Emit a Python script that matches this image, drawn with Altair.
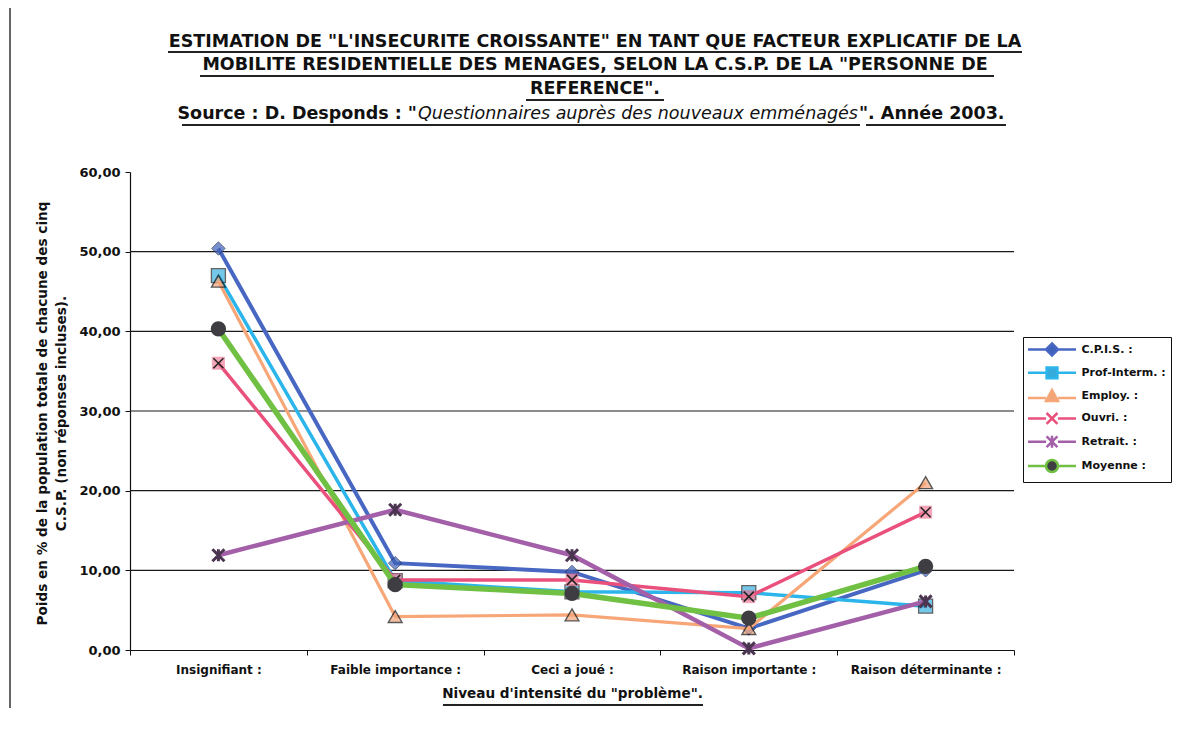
import altair as alt
import pandas as pd

# ---------------- data ----------------
categories = ["Insignifiant :", "Faible importance :", "Ceci a joué :",
              "Raison importante :", "Raison déterminante :"]
series = ["C.P.I.S. :", "Prof-Interm. :", "Employ. :", "Ouvri. :", "Retrait. :", "Moyenne :"]

cpis = [50.4, 10.9, 9.8, 2.7, 10.0]
prof_interm = [47.0, 8.7, 7.3, 7.2, 5.5]
employ = [46.3, 4.2, 4.4, 2.7, 21.0]
ouvri = [36.0, 8.8, 8.8, 6.7, 17.3]
retrait = [11.9, 17.6, 11.9, 0.2, 6.1]
moyenne = [40.3, 8.2, 7.1, 4.0, 10.5]

y_ticks = [0, 10, 20, 30, 40, 50, 60]
grid_values = [10, 20, 30, 40, 50]

title_lines = [
    'ESTIMATION DE "L\'INSECURITE CROISSANTE" EN TANT QUE FACTEUR EXPLICATIF DE LA',
    'MOBILITE RESIDENTIELLE DES MENAGES, SELON LA C.S.P. DE LA "PERSONNE DE',
    'REFERENCE".',
]
source_parts = ['Source : D. Desponds : "', 'Questionnaires auprès des nouveaux emménagés', '". Année 2003.']
y_title = ["Poids en % de la population totale de chacune des cinq",
           "C.S.P. (non réponses incluses)."]
x_title = 'Niveau d\'intensité du "problème".'

# ---------------- styles ----------------
FONT = "DejaVu Sans"
line_colors = ["#4767c2", "#2bb5ea", "#f7a677", "#ea507c", "#a360a8", "#70c043"]
line_widths = [4, 3.5, 3.2, 3.5, 4.5, 5.5]
legend_fills = ["#3f62b8", "#35acdc", "#f3a57a", "#f07f9a", "#6e4a74", "#3e3e42"]
legend_paths = [
    "M-4,0L-1,0M1,0L4,0M0,-1L1,0L0,1L-1,0Z",
    "M-4,0L-0.9,0M0.9,0L4,0M-0.9,-0.9L0.9,-0.9L0.9,0.9L-0.9,0.9Z",
    "M-4,0.3L-1,0.3M1,0.3L4,0.3M0,-1L1,0.8L-1,0.8Z",
    "M-4,0L-1,0M1,0L4,0M-0.9,-0.9L0.9,0.9M-0.9,0.9L0.9,-0.9",
    "M-4,0L-1,0M1,0L4,0M-0.9,-0.9L0.9,0.9M-0.9,0.9L0.9,-0.9M0,-1L0,1",
    "M-4,0L-1,0M1,0L4,0M1,0A1,1,0,1,1,-1,0A1,1,0,1,1,1,0Z",
]

rows = []
for name, vals in zip(series, [cpis, prof_interm, employ, ouvri, retrait, moyenne]):
    for c, v in zip(categories, vals):
        rows.append({"series": name, "cat": c, "value": v})
df = pd.DataFrame(rows)
one = pd.DataFrame({"a": [0]})

W, H = 884, 478

y_scale = alt.Scale(domain=[0, 60], nice=False, zero=True)
y_axis = alt.Axis(
    values=y_ticks, title=y_title, grid=False,
    labelExpr="replace(format(datum.value, '.2f'), '.', ',')",
    labelFont=FONT, labelFontSize=13, labelFontWeight="bold", labelColor="#111",
    labelPadding=5, tickSize=5, tickColor="#111", domainColor="#111", domainWidth=1.2,
    titleFont=FONT, titleFontSize=13.6, titleFontWeight="bold", titleColor="#111",
    titleLineHeight=19, titleX=-95, titleY=H / 2 + 2, titleAlign="center", titleBaseline="top",
    titleAngle=270,
)
x_scale = alt.Scale(type="band", domain=categories, paddingInner=0, paddingOuter=0)
x_axis = alt.Axis(
    title=x_title, tickBand="extent", labelAngle=0, grid=False,
    labelFont=FONT, labelFontSize=12, labelFontWeight="bold", labelColor="#111",
    labelPadding=9, tickSize=5, tickColor="#111", domainColor="#111", domainWidth=1.2,
    titleFont=FONT, titleFontSize=13.6, titleFontWeight="bold", titleColor="#111",
    titlePadding=11,
)

X = alt.X("cat:N", sort=categories, scale=x_scale, axis=x_axis, bandPosition=0.5)
Y = alt.Y("value:Q", scale=y_scale, axis=y_axis)

layers = []

# gridlines
grid = alt.Chart(pd.DataFrame({"value": grid_values})).mark_rule(
    color="#1a1a1a", strokeWidth=1.2).encode(y=Y)
layers.append(grid)

base = alt.Chart(df)

marker_specs = {
    "C.P.I.S. :": [dict(shape="diamond", filled=True, fill="#3f62b8", stroke="#1d2a55", strokeWidth=1, size=180)],
    "Prof-Interm. :": [dict(shape="square", filled=True, fill="#3ab0e0", stroke="#222", strokeWidth=1.3, size=196)],
    "Employ. :": [dict(shape="triangle-up", filled=True, fill="#f3a57a", stroke="#111", strokeWidth=1.4, size=190)],
    "Ouvri. :": [dict(shape="square", filled=True, fill="#f07f9a", stroke="#e06080", strokeWidth=0.5, size=150),
                 dict(shape="M-1,-1L1,1M-1,1L1,-1", filled=False, stroke="#222", strokeWidth=1.5, size=100, opacity=1)],
    "Retrait. :": [dict(shape="M-1,-1L1,1M-1,1L1,-1M0,-1L0,1", filled=False, stroke="#4b3550", strokeWidth=3, size=144, opacity=1)],
    "Moyenne :": [dict(shape="circle", filled=True, fill="#3e3e42", strokeWidth=0, size=235, opacity=1)],
}

for name, col, lw in zip(series, line_colors, line_widths):
    sub = base.transform_filter(alt.datum.series == name)
    layers.append(sub.mark_line(color=col, strokeWidth=lw).encode(x=X, y=Y))
    for spec in marker_specs[name]:
        layers.append(sub.mark_point(**spec).encode(x=X, y=Y))

# legend carrier (draws no marks itself)
leg = alt.Legend(
    title=None, orient="none", legendX=893, legendY=165,
    symbolSize=144, symbolStrokeWidth=2.5, symbolOffset=16.5, labelOffset=22,
    rowPadding=1.3, padding=5, strokeColor="#111", fillColor="white",
    labelFont=FONT, labelFontSize=11, labelFontWeight="bold", labelColor="#111", labelLimit=300,
)
legend_layer = alt.Chart(pd.DataFrame({"series": series})).transform_filter("false").mark_point(
    filled=True, size=144, strokeWidth=2.5, opacity=1
).encode(
    stroke=alt.Stroke("series:N", scale=alt.Scale(domain=series, range=line_colors), legend=leg),
    fill=alt.Fill("series:N", scale=alt.Scale(domain=series, range=legend_fills), legend=leg),
    shape=alt.Shape("series:N", scale=alt.Scale(domain=series, range=legend_paths), legend=leg),
)
layers.append(legend_layer)

# title block
TX = 465
TFS = 17.5
for txt, yy in zip(title_lines, [-130, -107, -83]):
    layers.append(alt.Chart(one).mark_text(
        font=FONT, fontSize=TFS, fontWeight="bold", color="#111", align="center", baseline="middle"
    ).encode(x=alt.value(TX), y=alt.value(yy), text=alt.value(txt)))

layers.append(alt.Chart(one).mark_text(
    font=FONT, fontSize=TFS, fontWeight="bold", color="#111", align="right", baseline="middle"
).encode(x=alt.value(287), y=alt.value(-58), text=alt.value(source_parts[0])))
layers.append(alt.Chart(one).mark_text(
    font=FONT, fontSize=TFS, fontStyle="italic", color="#111", align="center", baseline="middle"
).encode(x=alt.value(508), y=alt.value(-58), text=alt.value(source_parts[1])))
layers.append(alt.Chart(one).mark_text(
    font=FONT, fontSize=TFS, fontWeight="bold", color="#111", align="left", baseline="middle"
).encode(x=alt.value(729), y=alt.value(-58), text=alt.value(source_parts[2])))

# underlines (decoration)
underlines = [(38, 892, -120), (70, 864, -96), (396, 534, -72), (52, 730, -47), (736, 876, -47), (313, 573, 533)]
for x1, x2, yy in underlines:
    layers.append(alt.Chart(one).mark_rule(color="#222", strokeWidth=2).encode(
        x=alt.value(x1), x2=alt.value(x2), y=alt.value(yy)))

# scan frame line on the left
layers.append(alt.Chart(one).mark_rule(color="#333", strokeWidth=1.5).encode(
    x=alt.value(-120), y=alt.value(-164), y2=alt.value(536)))

chart = alt.layer(*layers).resolve_scale(
    stroke="independent", fill="independent", shape="independent"
).properties(
    width=W, height=H,
    autosize=alt.AutoSizeParams(type="none"),
    padding={"left": 122, "top": 164, "right": 158, "bottom": 58},
    background="white",
).configure_view(stroke=None)

chart.save("out.html", embed_options={"renderer": "svg", "actions": False})
